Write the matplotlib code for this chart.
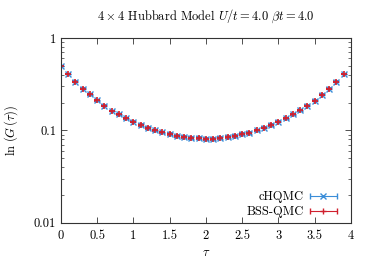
import matplotlib
matplotlib.use('Agg')
import matplotlib.pyplot as plt
from matplotlib.legend_handler import HandlerErrorbar
import numpy as np

plt.rcParams['font.family'] = 'serif'
plt.rcParams['font.serif'] = ['cmr10']
plt.rcParams['mathtext.fontset'] = 'cm'
plt.rcParams['axes.formatter.use_mathtext'] = True

TAU = [0.0, 0.1, 0.2, 0.3, 0.4, 0.5, 0.6, 0.7, 0.8, 0.9,
       1.0, 1.1, 1.2, 1.3, 1.4, 1.5, 1.6, 1.7, 1.8, 1.9,
       2.0, 2.1, 2.2, 2.3, 2.4, 2.5, 2.6, 2.7, 2.8, 2.9,
       3.0, 3.1, 3.2, 3.3, 3.4, 3.5, 3.6, 3.7, 3.8, 3.9]
G_CHQMC = [0.50, 0.41, 0.336, 0.283, 0.245, 0.211, 0.185, 0.162, 0.149, 0.135,
           0.124, 0.114, 0.106, 0.100, 0.095, 0.091, 0.087, 0.0855, 0.0834, 0.082,
           0.081, 0.081, 0.082, 0.0845, 0.087, 0.091, 0.094, 0.100, 0.107, 0.114,
           0.124, 0.135, 0.149, 0.165, 0.185, 0.21, 0.243, 0.283, 0.336, 0.41]
G_BSS = [0.50, 0.41, 0.336, 0.283, 0.245, 0.211, 0.185, 0.162, 0.149, 0.135,
         0.124, 0.114, 0.106, 0.100, 0.095, 0.091, 0.087, 0.0855, 0.0834, 0.082,
         0.081, 0.081, 0.082, 0.0845, 0.087, 0.091, 0.094, 0.100, 0.107, 0.114,
         0.124, 0.135, 0.149, 0.165, 0.185, 0.21, 0.243, 0.283, 0.336, 0.41]
ERR = 0.002

BLUE = '#3a8dd8'
RED = '#d0202e'

fig = plt.figure(figsize=(3.74, 2.62), dpi=100)
ax = fig.add_axes([0.163, 0.150, 0.7755, 0.705])

ax.errorbar(TAU, G_CHQMC, yerr=ERR, fmt='x', color=BLUE, ms=5, mew=1.0,
            elinewidth=0.8, capsize=2)
ax.errorbar(TAU, G_BSS, yerr=ERR, fmt='+', color=RED, ms=5, mew=1.2,
            elinewidth=0.8, capsize=2)

# legend proxies: gnuplot style horizontal error bars
h1 = ax.errorbar([np.nan], [np.nan], xerr=1, fmt='x', color=BLUE, ms=4, mew=1.0,
                 elinewidth=0.8, capsize=2.5, label='cHQMC')
h2 = ax.errorbar([np.nan], [np.nan], xerr=1, fmt='+', color=RED, ms=5, mew=1.0,
                 elinewidth=0.8, capsize=2.5, label='BSS-QMC')

ax.set_yscale('log')
ax.set_ylim(0.01, 1)
ax.set_xlim(0, 4)
ax.set_xticks([0, 0.5, 1, 1.5, 2, 2.5, 3, 3.5, 4])
ax.set_xticklabels(['0', '0.5', '1', '1.5', '2', '2.5', '3', '3.5', '4'])
ax.set_yticks([0.01, 0.1, 1])
ax.set_yticklabels(['0.01', '0.1', '1'])
ax.tick_params(which='both', direction='in', top=True, right=True, labelsize=9,
               color='#333333')
ax.tick_params(which='major', length=4, width=0.6)
ax.tick_params(which='minor', length=2, width=0.5)
ax.tick_params(axis='x', pad=5)
for s in ax.spines.values():
    s.set_linewidth(0.8)
    s.set_color('#333333')

ax.set_xlabel(r'$\tau$', fontsize=9, labelpad=4)
ax.set_ylabel(r'$\ln\,(G\,(\tau))$', fontsize=9, labelpad=10)
ax.set_title(r'$4 \times 4$ Hubbard Model $U/t = 4.0$ $\beta t = 4.0$', fontsize=9, pad=13)

ax.legend(handles=[h1, h2], loc='lower right', bbox_to_anchor=(0.976, -0.012),
          frameon=False, markerfirst=False,
          fontsize=9, handlelength=2.2, handletextpad=0.5, labelspacing=0.2,
          borderaxespad=0.15,
          handler_map={type(h1): HandlerErrorbar(xerr_size=1.08, yerr_size=0.5)})

fig.savefig('out.png', dpi=100)
